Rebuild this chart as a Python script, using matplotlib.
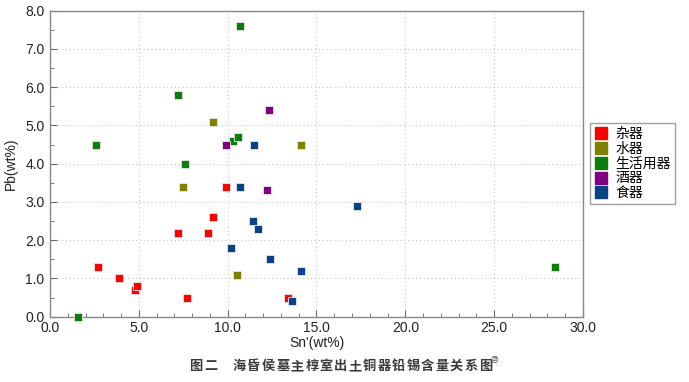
import matplotlib
matplotlib.use("Agg")
import matplotlib.pyplot as plt
from matplotlib.ticker import MultipleLocator
from matplotlib.lines import Line2D

plt.rcParams["font.family"] = ["Liberation Sans", "Noto Sans CJK SC", "DejaVu Sans"]

# data (Sn' wt%, Pb wt%)
categories = ["杂器", "水器", "生活用器", "酒器", "食器"]
colors = ["#ff0000", "#808000", "#0b7d0b", "#800080", "#0a4385"]

za_sn = [2.7, 3.9, 4.8, 4.9, 7.2, 7.7, 8.9, 9.2, 9.9, 13.4]
za_pb = [1.3, 1.0, 0.7, 0.8, 2.2, 0.5, 2.2, 2.6, 3.4, 0.5]

shui_sn = [7.5, 9.2, 10.5, 14.1]
shui_pb = [3.4, 5.1, 1.1, 4.5]

sheng_sn = [1.6, 2.6, 7.2, 7.6, 10.3, 10.6, 10.7, 28.4]
sheng_pb = [0.0, 4.5, 5.8, 4.0, 4.6, 4.7, 7.6, 1.3]

jiu_sn = [9.9, 12.3, 12.2]
jiu_pb = [4.5, 5.4, 3.3]

shi_sn = [10.2, 10.7, 11.4, 11.5, 11.7, 12.4, 13.6, 14.1, 17.3]
shi_pb = [1.8, 3.4, 2.5, 4.5, 2.3, 1.5, 0.4, 1.2, 2.9]

series = [(za_sn, za_pb), (shui_sn, shui_pb), (sheng_sn, sheng_pb),
          (jiu_sn, jiu_pb), (shi_sn, shi_pb)]

caption = "图二　海昏侯墓主椁室出土铜器铅锡含量关系图"

fig = plt.figure(figsize=(6.89, 3.82), dpi=100)
ax = fig.add_axes([0.0726, 0.171, 0.7735, 0.801])

for (xs, ys), c in zip(series, colors):
    ax.plot(xs, ys, ls="none", marker="s", ms=5.2, mfc=c, mec="#e8e8e8",
            mew=0.6, clip_on=False, zorder=3)

ax.set_xlim(0, 30)
ax.set_ylim(0, 8)
ax.xaxis.set_major_locator(MultipleLocator(5))
ax.xaxis.set_minor_locator(MultipleLocator(1))
ax.yaxis.set_major_locator(MultipleLocator(1))
ax.yaxis.set_minor_locator(MultipleLocator(0.5))
ax.xaxis.set_major_formatter(lambda v, p: f"{v:.1f}")
ax.yaxis.set_major_formatter(lambda v, p: f"{v:.1f}")
ax.tick_params(which="both", direction="in", color="#666666",
               top=False, right=False, labelsize=10, labelcolor="#222222")
ax.tick_params(which="major", length=5, width=0.8)
ax.tick_params(axis="x", which="major", pad=3)
ax.tick_params(axis="y", which="major", pad=4)
ax.tick_params(which="minor", length=3, width=0.6)
ax.grid(True, which="major", ls=(0, (1, 3)), lw=0.7, color="#bbbbbb")
for s in ax.spines.values():
    s.set_color("#888888")
    s.set_linewidth(1.0)

ax.set_xlabel("Sn'(wt%)", fontsize=10, labelpad=1, color="#222222")
ax.set_ylabel("Pb(wt%)", fontsize=10, labelpad=5, color="#222222")

handles = [Line2D([], [], ls="none", marker="s", ms=8, mfc=c, mec=c)
           for c in colors]
leg = ax.legend(handles, categories, loc="center left",
                bbox_to_anchor=(1.014, 0.5), frameon=True, fancybox=False,
                prop={"family": ["Noto Sans CJK SC"], "size": 10},
                handlelength=0.9, handletextpad=0.6, labelspacing=0.05,
                borderpad=0.3, borderaxespad=0)
leg.get_frame().set_edgecolor("#888888")
leg.get_frame().set_linewidth(1.0)

# caption, drawn char by char for the wide letter spacing
x0, step = 0.275, 0.021
for i, ch in enumerate(caption):
    fig.text(x0 + i * step, 0.042, ch, ha="left", va="center", fontsize=9.5,
             family=["Noto Sans CJK SC"], weight="bold", color="#3a3a3a")
fig.text(x0 + len(caption) * step - 0.004, 0.058, "㉙", ha="left",
         va="center", fontsize=5.5, family=["Noto Sans CJK SC"],
         color="#444444")

fig.savefig("out.png", dpi=100)
